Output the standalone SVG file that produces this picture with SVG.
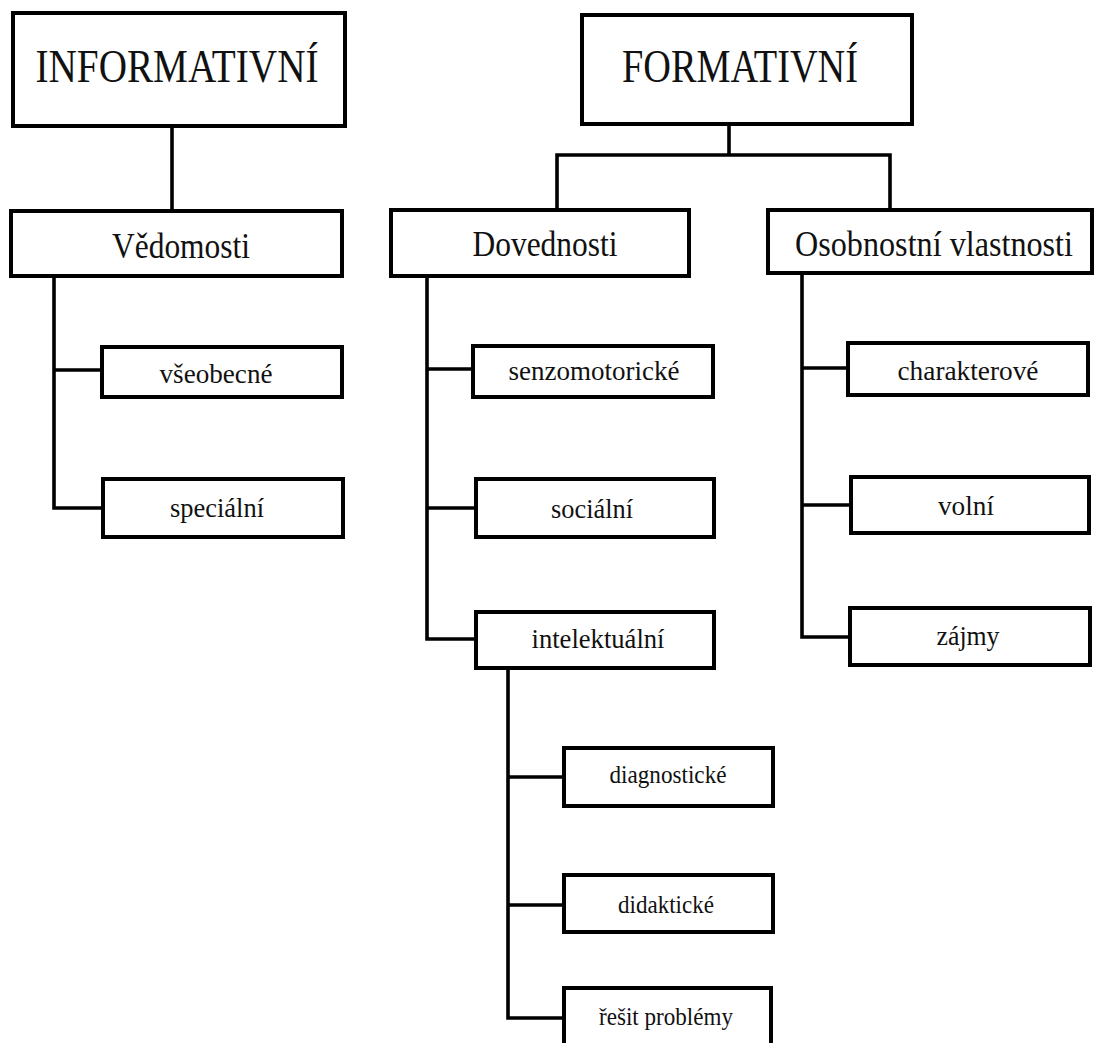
<svg xmlns="http://www.w3.org/2000/svg" width="1094" height="1043" viewBox="0 0 1094 1043">
<style>
.box{fill:#fff;stroke:#000;stroke-width:4}
.ln{fill:none;stroke:#000;stroke-width:3.6;stroke-linejoin:miter;stroke-linecap:square}
text{font-family:"Liberation Serif","Times New Roman",serif;fill:#111;text-anchor:middle}
.t1{font-size:46px}
.t2{font-size:35px}
.t3{font-size:28px}
.t4{font-size:26px}
</style>
<rect width="1094" height="1043" fill="#fff"/>
<g id="connectors">
<path class="ln" d="M172 126 V211"/>
<path class="ln" d="M54 276 V508 H103 M54 370 H102"/>
<path class="ln" d="M729 124 V155 M557 210 V155 H890 V210"/>
<path class="ln" d="M427 276 V639 H476 M427 369 H473 M427 508 H476"/>
<path class="ln" d="M508 668 V1018 H564 M508 777 H564 M508 905 H564"/>
<path class="ln" d="M802 273 V637 H850 M802 368 H848 M802 505 H851"/>
</g>
<g id="informativni"><rect class="box" x="13" y="13" width="332" height="113"/><text class="t1" x="177" y="82" textLength="283" lengthAdjust="spacingAndGlyphs">INFORMATIVNÍ</text></g>
<g id="formativni"><rect class="box" x="582" y="15" width="330" height="109"/><text class="t1" x="740" y="82" textLength="236" lengthAdjust="spacingAndGlyphs">FORMATIVNÍ</text></g>
<g id="vedomosti"><rect class="box" x="11" y="211" width="331" height="65"/><text class="t2" x="181" y="258" textLength="138" lengthAdjust="spacingAndGlyphs">Vědomosti</text></g>
<g id="dovednosti"><rect class="box" x="391" y="210" width="298" height="66"/><text class="t2" x="545" y="256" textLength="145" lengthAdjust="spacingAndGlyphs">Dovednosti</text></g>
<g id="osobnostni"><rect class="box" x="768" y="210" width="324" height="63"/><text class="t2" x="934" y="256" textLength="278" lengthAdjust="spacingAndGlyphs">Osobnostní vlastnosti</text></g>
<g id="vseobecne"><rect class="box" x="102" y="347" width="240" height="50"/><text class="t3" x="216" y="383" textLength="113" lengthAdjust="spacingAndGlyphs">všeobecné</text></g>
<g id="specialni"><rect class="box" x="103" y="479" width="240" height="58"/><text class="t3" x="217" y="517" textLength="94" lengthAdjust="spacingAndGlyphs">speciální</text></g>
<g id="senzomotoricke"><rect class="box" x="473" y="346" width="240" height="51"/><text class="t3" x="594" y="380" textLength="171" lengthAdjust="spacingAndGlyphs">senzomotorické</text></g>
<g id="socialni"><rect class="box" x="476" y="479" width="238" height="58"/><text class="t3" x="592" y="518" textLength="82" lengthAdjust="spacingAndGlyphs">sociální</text></g>
<g id="intelektualni"><rect class="box" x="476" y="612" width="238" height="56"/><text class="t3" x="598" y="648" textLength="133" lengthAdjust="spacingAndGlyphs">intelektuální</text></g>
<g id="charakterove"><rect class="box" x="848" y="343" width="240" height="52"/><text class="t3" x="968" y="380" textLength="141" lengthAdjust="spacingAndGlyphs">charakterové</text></g>
<g id="volni"><rect class="box" x="851" y="477" width="238" height="56"/><text class="t3" x="966" y="515" textLength="56" lengthAdjust="spacingAndGlyphs">volní</text></g>
<g id="zajmy"><rect class="box" x="850" y="608" width="240" height="57"/><text class="t3" x="968" y="645" textLength="63" lengthAdjust="spacingAndGlyphs">zájmy</text></g>
<g id="diagnosticke"><rect class="box" x="564" y="748" width="209" height="58"/><text class="t4" x="668" y="783" textLength="117" lengthAdjust="spacingAndGlyphs">diagnostické</text></g>
<g id="didakticke"><rect class="box" x="564" y="875" width="209" height="57"/><text class="t4" x="666" y="913" textLength="96" lengthAdjust="spacingAndGlyphs">didaktické</text></g>
<g id="resit"><rect class="box" x="564" y="988" width="207" height="62"/><text class="t4" x="666" y="1025" textLength="134" lengthAdjust="spacingAndGlyphs">řešit problémy</text></g>
</svg>
